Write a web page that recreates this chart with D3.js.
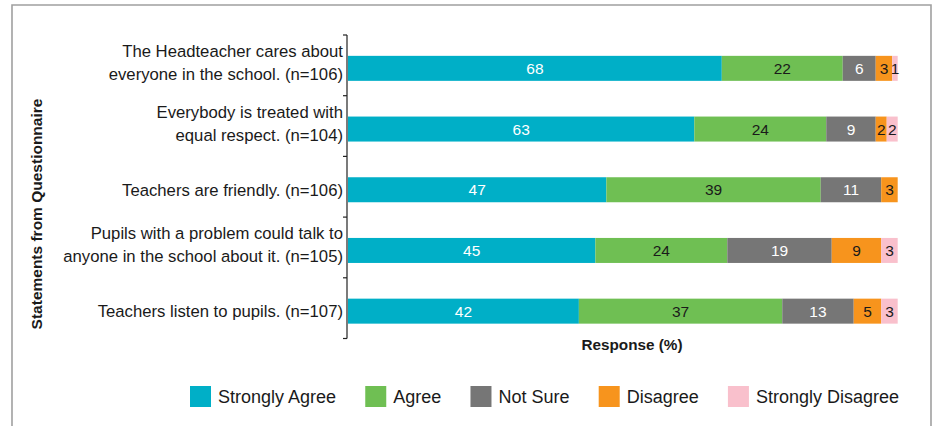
<!DOCTYPE html>
<html><head><meta charset="utf-8">
<script src="https://cdn.jsdelivr.net/npm/d3@7"></script>
<style>body{margin:0;background:#fff} svg{display:block} text{font-family:"Liberation Sans",Arial,Helvetica,sans-serif}</style>
</head><body><svg id="c" width="935" height="426"></svg>
<script>
const statements = [
  "The Headteacher cares about\neveryone in the school. (n=106)",
  "Everybody is treated with\nequal respect. (n=104)",
  "Teachers are friendly. (n=106)",
  "Pupils with a problem could talk to\nanyone in the school about it. (n=105)",
  "Teachers listen to pupils. (n=107)"
];
const responses = ["Strongly Agree", "Agree", "Not Sure", "Disagree", "Strongly Disagree"];
const stronglyAgree    = [68, 63, 47, 45, 42];
const agree            = [22, 24, 39, 24, 37];
const notSure          = [6, 9, 11, 19, 13];
const disagree         = [3, 2, 3, 9, 5];
const stronglyDisagree = [1, 2, 0, 3, 3];
const xTitle = "Response (%)";
const yTitle = "Statements from Questionnaire";

const colors = ["#00afc7", "#6fbf53", "#767676", "#f7941d", "#f9c0cc"];
const labelColors = ["#ffffff", "#1a1a1a", "#ffffff", "#1a1a1a", "#1a1a1a"];

const series = [stronglyAgree, agree, notSure, disagree, stronglyDisagree];
const table = statements.map((s, i) => {
  const row = {statement: s};
  responses.forEach((r, k) => row[r] = series[k][i]);
  return row;
});

const svg = d3.select("#c");
// frame
svg.append("path").attr("d", "M12,426V5H931V426").attr("fill", "none")
  .attr("stroke", "#a0a0a0").attr("stroke-width", 1.6);

const x = d3.scaleLinear().domain([0, 100]).range([348, 897.7]);
const y = d3.scaleBand().domain(statements).range([35, 338.5]);
const barH = 25;
const barY = d => y(d) + y.bandwidth() / 2 - barH / 2 + 3;
const color = d3.scaleOrdinal().domain(responses).range(colors);
const lcolor = d3.scaleOrdinal().domain(responses).range(labelColors);

const stack = d3.stack().keys(responses)(table);

const g = svg.append("g");
stack.forEach(layer => {
  const key = layer.key;
  const lg = g.append("g");
  lg.selectAll("rect").data(layer.filter(d => d[1] > d[0])).join("rect")
    .attr("x", d => x(d[0]))
    .attr("y", d => barY(d.data.statement))
    .attr("width", d => x(d[1]) - x(d[0]))
    .attr("height", barH)
    .attr("fill", color(key));
  lg.selectAll("text").data(layer.filter(d => d[1] > d[0])).join("text")
    .attr("x", d => (x(d[0]) + x(d[1])) / 2)
    .attr("y", d => barY(d.data.statement) + barH / 2 + 5.6)
    .attr("text-anchor", "middle")
    .attr("font-size", 15.5)
    .attr("fill", lcolor(key))
    .text(d => d[1] - d[0]);
});

// y axis
const ax = svg.append("g").attr("stroke", "#222").attr("stroke-width", 1.2);
ax.append("line").attr("x1", 347).attr("x2", 347).attr("y1", y.range()[0]).attr("y2", y.range()[1]);
const edges = statements.map(s => y(s)).concat([y.range()[1]]);
ax.selectAll("line.t").data(edges).join("line").attr("class", "t")
  .attr("x1", 343).attr("x2", 347).attr("y1", d => d).attr("y2", d => d);

// y labels
statements.forEach(s => {
  const lines = s.split("\n");
  const c = y(s) + y.bandwidth() / 2 + 3;
  const t = svg.append("text").attr("text-anchor", "end").attr("font-size", 16.7).attr("fill", "#1a1a1a");
  if (lines.length === 1) {
    t.append("tspan").attr("x", 343).attr("y", c + 6).text(lines[0]);
  } else {
    lines.forEach((l, i) => t.append("tspan").attr("x", 343).attr("y", c - 11 + i * 23).text(l));
  }
});

// axis titles
svg.append("text").attr("x", 632).attr("y", 350).attr("text-anchor", "middle")
  .attr("font-size", 15.3).attr("font-weight", "bold").attr("fill", "#1a1a1a").text(xTitle);
svg.append("text").attr("transform", "translate(41.5,214) rotate(-90)").attr("text-anchor", "middle")
  .attr("font-size", 15.5).attr("font-weight", "bold").attr("fill", "#1a1a1a").text(yTitle);

// legend: spread between left and right edges
const lgd = svg.append("g");
const lStart = 190, lEnd = 899, sw = 21, tOff = 28;
const items = responses.map(r => {
  const t = lgd.append("text").attr("y", 402.5).attr("font-size", 18).attr("fill", "#1a1a1a").text(r);
  return {r, t, w: t.node().getComputedTextLength()};
});
const totalW = d3.sum(items, d => d.w + tOff);
const gap = (lEnd - lStart - totalW) / (items.length - 1);
let lx = lStart;
items.forEach(it => {
  lgd.append("rect").attr("x", lx).attr("y", 386).attr("width", sw).attr("height", sw).attr("fill", color(it.r));
  it.t.attr("x", lx + tOff);
  lx += tOff + it.w + gap;
});
</script></body></html>
